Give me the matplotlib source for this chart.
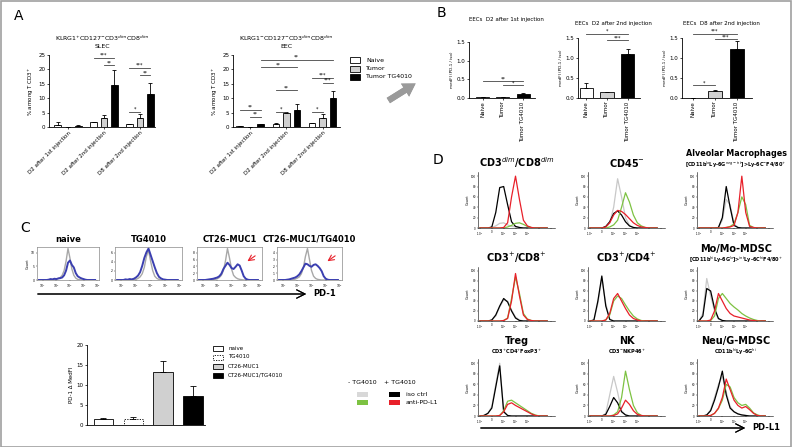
import matplotlib.pyplot as plt
import numpy as np
from matplotlib.patches import Rectangle

W, H = 792, 447

# ---------------- data ----------------
# panel A (rows = Naive, Tumor, Tumor TG4010 ; columns = time points)
a_groups = ["D2 after 1st injection", "D2 after 2nd injection", "D8 after 2nd injection"]
a_series = ["Naive", "Tumor", "Tumor TG4010"]
slec_vals = [[0.8, 1.7, 1.0], [0.1, 3.2, 3.0], [0.4, 14.5, 11.6]]
slec_err = [[1.0, 0.1, 0.15], [0.0, 0.8, 1.5], [0.2, 5.4, 3.8]]
eec_vals = [[0.3, 1.2, 1.4], [0.1, 5.0, 3.0], [1.0, 6.0, 10.2]]
eec_err = [[0.1, 0.1, 0.1], [0.0, 0.2, 1.5], [0.2, 2.0, 2.3]]

# panel B
b_titles = ["EECs  D2 after 1st injection", "EECs  D2 after 2nd injection", "EECs  D8 after 2nd injection"]
b_vals = [[0.02, 0.03, 0.12], [0.25, 0.15, 1.10], [0.0, 0.18, 1.22]]
b_err = [[0.005, 0.005, 0.02], [0.12, 0.01, 0.13], [0.0, 0.02, 0.20]]

# panel C histograms (% of axis height), gray = isotype, blue = PD-1
c_titles = ["naive", "TG4010", "CT26-MUC1", "CT26-MUC1/TG4010"]
c_gray = [
    [0, 0, 0, 0, 0, 0, 0, 1, 2, 3, 5, 8, 15, 30, 60, 100, 70, 35, 15, 6, 2, 1, 0, 0, 0, 0, 0, 0, 0, 0],
    [0, 0, 0, 0, 0, 0, 0, 0, 1, 2, 5, 10, 20, 40, 75, 95, 60, 30, 12, 5, 2, 0, 0, 0, 0, 0, 0, 0, 0, 0],
    [0, 0, 0, 0, 0, 0, 0, 1, 2, 4, 8, 15, 30, 60, 100, 70, 35, 15, 8, 4, 2, 1, 0, 0, 0, 0, 0, 0, 0, 0],
    [0, 0, 0, 0, 0, 0, 0, 1, 3, 6, 10, 20, 40, 75, 100, 65, 30, 12, 5, 2, 1, 0, 0, 0, 0, 0, 0, 0, 0, 0],
]
c_blue = [
    [0, 0, 0, 0, 0, 1, 3, 2, 4, 3, 5, 6, 8, 15, 30, 55, 62, 48, 40, 22, 12, 8, 5, 3, 1, 0, 0, 0, 0, 0],
    [0, 0, 0, 0, 2, 1, 3, 2, 4, 8, 14, 25, 45, 70, 88, 100, 80, 60, 40, 22, 10, 5, 2, 1, 0, 0, 0, 0, 0, 0],
    [0, 0, 0, 0, 1, 2, 3, 4, 6, 8, 12, 20, 35, 45, 55, 48, 38, 35, 42, 50, 46, 30, 12, 4, 1, 0, 0, 0, 0, 0],
    [0, 0, 0, 0, 1, 2, 4, 6, 8, 12, 18, 28, 40, 52, 50, 45, 42, 48, 50, 45, 38, 28, 12, 4, 1, 0, 0, 0, 0, 0],
]

# panel C bar chart
c_labels = ["naive", "TG4010", "CT26-MUC1", "CT26-MUC1/TG4010"]
c_vals = [1.5, 1.6, 13.3, 7.3]
c_errs = [0.3, 0.3, 2.6, 2.4]

# panel D histograms: [iso -TG4010 (gray), iso +TG4010 (black), anti-PD-L1 -TG4010 (green), anti-PD-L1 +TG4010 (red)]
cd3dim_cd8dim = [
    [0, 0, 0, 1, 4, 9, 10, 6, 3, 2, 1, 0, 0, 0, 0, 0, 0, 0],
    [0, 0, 0, 2, 30, 78, 80, 45, 12, 3, 1, 0, 0, 0, 0, 0, 0, 0],
    [0, 0, 0, 0, 0, 0, 0, 2, 5, 9, 10, 7, 3, 1, 0, 0, 0, 0],
    [0, 0, 0, 0, 0, 0, 1, 10, 60, 100, 55, 15, 4, 1, 0, 0, 0, 0],
]
cd45neg = [
    [0, 0, 0, 0, 2, 10, 40, 95, 60, 20, 5, 1, 0, 0, 0, 0, 0, 0],
    [0, 0, 0, 0, 3, 12, 28, 33, 25, 12, 4, 1, 0, 0, 0, 0, 0, 0],
    [0, 0, 0, 0, 0, 2, 6, 15, 40, 68, 50, 25, 10, 4, 1, 0, 0, 0],
    [0, 0, 0, 0, 2, 10, 25, 34, 32, 26, 18, 10, 5, 2, 1, 0, 0, 0],
]
alv_macro = [
    [0, 0, 0, 0, 0, 1, 15, 55, 45, 8, 1, 0, 0, 0, 0, 0, 0, 0],
    [0, 0, 0, 0, 0, 1, 20, 80, 40, 5, 1, 0, 0, 0, 0, 0, 0, 0],
    [0, 0, 0, 0, 0, 0, 0, 1, 3, 8, 30, 60, 45, 5, 1, 0, 0, 0],
    [0, 0, 0, 0, 0, 0, 0, 1, 2, 5, 30, 100, 30, 3, 1, 0, 0, 0],
]
cd3_cd8 = [
    [0, 0, 0, 2, 10, 28, 42, 40, 22, 8, 2, 0, 0, 0, 0, 0, 0, 0],
    [0, 0, 0, 2, 12, 30, 45, 38, 20, 6, 1, 0, 0, 0, 0, 0, 0, 0],
    [0, 0, 0, 0, 0, 0, 1, 6, 45, 88, 55, 15, 4, 1, 0, 0, 0, 0],
    [0, 0, 0, 0, 0, 0, 1, 5, 40, 95, 50, 12, 3, 1, 0, 0, 0, 0],
]
cd3_cd4 = [
    [0, 2, 35, 85, 35, 4, 0, 0, 0, 0, 0, 0, 0, 0, 0, 0, 0, 0],
    [0, 2, 40, 90, 30, 3, 0, 0, 0, 0, 0, 0, 0, 0, 0, 0, 0, 0],
    [0, 0, 0, 0, 2, 12, 40, 50, 45, 32, 20, 10, 4, 1, 0, 0, 0, 0],
    [0, 0, 0, 0, 2, 15, 45, 55, 40, 25, 12, 5, 2, 0, 0, 0, 0, 0],
]
mo_mdsc = [
    [0, 15, 85, 50, 20, 4, 1, 0, 0, 0, 0, 0, 0, 0, 0, 0, 0, 0],
    [0, 10, 65, 60, 25, 5, 1, 0, 0, 0, 0, 0, 0, 0, 0, 0, 0, 0],
    [0, 0, 0, 1, 10, 45, 55, 45, 35, 28, 22, 15, 10, 6, 3, 1, 0, 0],
    [0, 0, 0, 2, 20, 55, 40, 25, 15, 10, 8, 6, 4, 2, 1, 0, 0, 0],
]
treg = [
    [0, 1, 5, 18, 60, 100, 10, 1, 0, 0, 0, 0, 0, 0, 0, 0, 0, 0],
    [0, 1, 5, 15, 55, 95, 8, 1, 0, 0, 0, 0, 0, 0, 0, 0, 0, 0],
    [0, 0, 0, 0, 0, 1, 10, 28, 30, 25, 20, 15, 10, 5, 2, 0, 0, 0],
    [0, 0, 0, 0, 0, 1, 8, 22, 25, 20, 16, 12, 8, 4, 1, 0, 0, 0],
]
nk = [
    [0, 0, 0, 0, 5, 40, 75, 45, 10, 2, 0, 0, 0, 0, 0, 0, 0, 0],
    [0, 0, 0, 0, 3, 18, 35, 25, 8, 2, 0, 0, 0, 0, 0, 0, 0, 0],
    [0, 0, 0, 0, 0, 0, 2, 8, 35, 85, 50, 20, 6, 1, 0, 0, 0, 0],
    [0, 0, 0, 0, 0, 0, 1, 4, 15, 30, 22, 10, 3, 1, 0, 0, 0, 0],
]
neu_mdsc = [
    [0, 0, 2, 12, 35, 60, 75, 45, 18, 8, 4, 2, 1, 0, 0, 0, 0, 0],
    [0, 0, 2, 10, 30, 55, 85, 40, 15, 8, 4, 2, 1, 0, 0, 0, 0, 0],
    [0, 0, 0, 1, 5, 14, 30, 60, 55, 35, 25, 20, 22, 15, 6, 2, 0, 0],
    [0, 0, 0, 1, 5, 15, 35, 70, 50, 30, 20, 15, 18, 12, 5, 1, 0, 0],
]

# ---------------- helpers ----------------
fig = plt.figure(figsize=(W / 100, H / 100), dpi=100)
plt.rcParams['font.family'] = ['DejaVu Sans']


def px_axes(x0, y0, x1, y1):
    return fig.add_axes([x0 / W, 1 - y1 / H, (x1 - x0) / W, (y1 - y0) / H])


def ftext(x, y, s, **kw):
    fig.text(x / W, 1 - y / H, s, **kw)


def clean(ax, size=4):
    ax.spines['top'].set_visible(False)
    ax.spines['right'].set_visible(False)
    for s in ['left', 'bottom']:
        ax.spines[s].set_linewidth(0.6)
    ax.tick_params(labelsize=size, width=0.5, length=1.5, pad=1)


def sig(ax, x0, x1, y, s, fs=3.5):
    ax.plot([x0, x1], [y, y], color='#444444', lw=0.6, clip_on=False)
    ax.text((x0 + x1) / 2, y, s, ha='center', va='bottom', fontsize=fs, clip_on=False)


colors3 = ['white', '#d0d0d0', 'black']

# border
fig.add_artist(Rectangle((0.001, 0.001), 0.998, 0.997, transform=fig.transFigure,
                         fill=False, edgecolor='#a0a0a0', lw=1.2))

# ---------------- panel A ----------------
ftext(14, 16, "A", fontsize=10, va='center')
off = [-0.29, 0.0, 0.29]


def a_panel(ax, vals, errs):
    x = np.arange(3)
    for i in range(3):
        ax.bar(x + off[i], vals[i], width=0.18, color=colors3[i], edgecolor='black', lw=0.6,
               yerr=[np.zeros(3), errs[i]], error_kw=dict(lw=0.6, capsize=1.5, capthick=0.6))
    ax.set_ylim(0, 25)
    ax.set_yticks([0, 5, 10, 15, 20, 25])
    ax.set_xticks(x)
    ax.set_xticklabels(a_groups, rotation=45, ha='right', rotation_mode='anchor', fontsize=3.6)
    ax.set_ylabel("% among T CD3$^{+}$", fontsize=4, labelpad=2)
    clean(ax)


ax = px_axes(49, 55, 155, 127)
a_panel(ax, slec_vals, slec_err)
ax.set_xlim(-0.53, 2.42)
sig(ax, 0.71, 1.29, 24.0, "***")
sig(ax, 1.0, 1.29, 21.5, "**")
sig(ax, 1.71, 2.29, 20.5, "***")
sig(ax, 2.0, 2.29, 18.0, "**")
sig(ax, 1.71, 2.0, 5.2, "*")
ax.set_title("KLRG1$^{+}$CD127$^{-}$CD3$^{dim}$CD8$^{dim}$\nSLEC", fontsize=4.5, pad=5)

ax = px_axes(233, 55, 340, 127)
a_panel(ax, eec_vals, eec_err)
ax.set_xlim(-0.47, 2.48)
sig(ax, 0.29, 2.29, 23.3, "**")
sig(ax, 0.29, 1.29, 20.8, "**")
sig(ax, 1.71, 2.29, 17.0, "***")
sig(ax, 2.0, 2.29, 15.3, "***")
sig(ax, 0.71, 1.29, 12.8, "**")
sig(ax, -0.29, 0.29, 5.9, "**")
sig(ax, 0.0, 0.29, 3.5, "**")
sig(ax, 0.71, 1.0, 5.2, "*")
sig(ax, 1.71, 2.0, 5.2, "*")
ax.set_title("KLRG1$^{-}$CD127$^{-}$CD3$^{dim}$CD8$^{dim}$\nEEC", fontsize=4.5, pad=5)

for i, name in enumerate(a_series):
    y = 60 + i * 8.5
    fig.add_artist(Rectangle((350 / W, 1 - (y + 3) / H), 10 / W, 6 / H, transform=fig.transFigure,
                             facecolor=colors3[i], edgecolor='black', lw=0.6))
    ftext(366, y, name, fontsize=4.5, va='center')

# gray arrow between A and B
fig.add_artist(plt.annotate('', xy=(418 / W, 1 - 82 / H), xytext=(386 / W, 1 - 102 / H),
                            xycoords='figure fraction',
                            arrowprops=dict(arrowstyle='simple,head_width=1.1,head_length=0.9,tail_width=0.45',
                                            color='#9a9a9a', lw=0)))

# ---------------- panel B ----------------
ftext(437, 13, "B", fontsize=10, va='center')
b_boxes = [(469, 42, 535, 98), (578, 38, 640, 98), (682, 38, 752, 98)]
b_xlims = [(-0.7, 2.6), (-0.4, 2.6), (-0.5, 2.7)]
b_title_y = [20, 24, 24]
for k in range(3):
    ax = px_axes(*b_boxes[k])
    ax.bar(np.arange(3), b_vals[k], width=0.65, color=colors3, edgecolor='black', lw=0.6,
           yerr=[np.zeros(3), b_err[k]], error_kw=dict(lw=0.6, capsize=1.5, capthick=0.6))
    ax.set_xlim(*b_xlims[k])
    ax.set_ylim(0, 1.5)
    ax.set_yticks([0, 0.5, 1.0, 1.5])
    ax.set_yticklabels(["0.0", "0.5", "1.0", "1.5"])
    ax.set_xticks(np.arange(3))
    ax.set_xticklabels(a_series, rotation=90)
    ax.set_ylabel("medFI (PD-1 / iso)", fontsize=3, labelpad=2)
    clean(ax)
    x0, _, x1, _ = b_boxes[k]
    ftext((x0 + x1) / 2 + 4, b_title_y[k], b_titles[k], fontsize=4, ha='center', va='center')
    if k == 0:
        sig(ax, 0, 2, 0.45, "**")
        sig(ax, 1, 2, 0.34, "*")
    elif k == 1:
        sig(ax, 0, 2, 1.60, "*")
        sig(ax, 1, 2, 1.44, "***")
    else:
        sig(ax, 0, 2, 1.60, "***")
        sig(ax, 1, 2, 1.47, "***")
        sig(ax, 0, 1, 0.32, "*")

# ---------------- panel C ----------------
ftext(20, 228, "C", fontsize=10, va='center')
c_boxes = [(37, 247, 99, 280), (115, 247, 182, 280), (197, 247, 262, 280), (277, 247, 342, 280)]
c_yticks = [[0, 5, 10], [0, 2, 4, 6], [0, 2, 4, 6, 8], [0, 1, 2, 3, 4]]
for k in range(4):
    ax = px_axes(*c_boxes[k])
    xb = np.arange(len(c_gray[k]))
    ax.plot(xb, c_gray[k], color='#a8a8a8', lw=1.0)
    ax.plot(xb, c_blue[k], color='#3b3fb0', lw=1.4)
    ax.set_xlim(-1, 31)
    ax.set_ylim(0, 105)
    top = c_yticks[k][-1] * 1.15
    ax.set_yticks([v / top * 100 for v in c_yticks[k]])
    ax.set_yticklabels([str(v) for v in c_yticks[k]])
    ax.set_xticks([2, 9, 16, 23, 30])
    ax.set_xticklabels(["10$^1$", "10$^2$", "10$^3$", "10$^4$", "10$^5$"])
    ax.tick_params(labelsize=2.2, width=0.3, length=1, pad=0.5)
    for s in ax.spines.values():
        s.set_linewidth(0.5)
        s.set_color('#888888')
    if k == 0:
        ax.set_ylabel("Count", fontsize=2.5, labelpad=1)
    x0, y0, x1, _ = c_boxes[k]
    ftext((x0 + x1) / 2, y0 - 8, c_titles[k], fontsize=6, fontweight='bold', ha='center', va='center')
    if k >= 2:
        ax.annotate('', xy=(0.74, 0.52), xytext=(0.93, 0.78), xycoords='axes fraction',
                    arrowprops=dict(arrowstyle='->', color='#e8202a', lw=0.8))

fig.add_artist(plt.annotate('', xy=(309 / W, 1 - 294 / H), xytext=(35 / W, 1 - 294 / H),
                            xycoords='figure fraction',
                            arrowprops=dict(arrowstyle='->,head_length=0.6,head_width=0.3', lw=0.8,
                                            color='black')))
ftext(313, 294, "PD-1", fontsize=6, fontweight='bold', va='center')

ax = px_axes(87, 345, 205, 425)
c_fc = ['white', 'white', '#d0d0d0', 'black']
c_ls = ['-', (0, (1.5, 1.5)), '-', '-']
for i in range(4):
    ax.bar(i, c_vals[i], width=0.65, color=c_fc[i], edgecolor='black', lw=0.6, linestyle=c_ls[i],
           yerr=[[0], [c_errs[i]]], error_kw=dict(lw=0.6, capsize=2, capthick=0.6))
ax.set_xlim(-0.55, 3.4)
ax.set_ylim(0, 20)
ax.set_yticks([0, 5, 10, 15, 20])
ax.set_xticks([])
ax.set_ylabel("PD-1 \u0394 MedFI", fontsize=4, labelpad=2)
clean(ax, 4)

for i, name in enumerate(c_labels):
    y = 348 + i * 9
    fig.add_artist(Rectangle((213 / W, 1 - (y + 2.5) / H), 10 / W, 5 / H, transform=fig.transFigure,
                             facecolor=c_fc[i], edgecolor='black', lw=0.6, linestyle=c_ls[i]))
    ftext(228, y, name, fontsize=4, va='center')

# ---------------- panel D ----------------
ftext(433, 160, "D", fontsize=10, va='center')
d_cols = [(478, 555), (588, 665), (697, 773)]
d_rows = [(172, 228), (267, 321), (359, 416)]
d_data = [[cd3dim_cd8dim, cd45neg, alv_macro], [cd3_cd8, cd3_cd4, mo_mdsc], [treg, nk, neu_mdsc]]
d_titles = [["CD3$^{dim}$/CD8$^{dim}$", "CD45$^{-}$", "Alveolar Macrophages"],
            ["CD3$^{+}$/CD8$^{+}$", "CD3$^{+}$/CD4$^{+}$", "Mo/Mo-MDSC"],
            ["Treg", "NK", "Neu/G-MDSC"]]
d_subs = [["", "", "[CD11b$^{lo}$Ly-6G$^{neg-int}$]>Ly-6C$^{-}$F4/80$^{+}$"],
          ["", "", "[CD11b$^{hi}$Ly-6G$^{lo}$]>$^{int}$Ly-6C$^{hi}$F4/80$^{+}$"],
          ["CD3$^{+}$CD4$^{+}$FoxP3$^{+}$", "CD3$^{-}$NKP46$^{+}$", "CD11b$^{hi}$Ly-6G$^{hi}$"]]
d_colors = ['#c8c8c8', 'black', '#7dc242', '#e8202a']
for r in range(3):
    for c in range(3):
        x0, x1 = d_cols[c]
        y0, y1 = d_rows[r]
        ax = px_axes(x0, y0, x1, y1)
        curves = d_data[r][c]
        xb = np.arange(len(curves[0]))
        for j in range(4):
            ax.plot(xb, curves[j], color=d_colors[j], lw=0.9)
        ax.set_xlim(-0.5, 19)
        ax.set_ylim(0, 108)
        ax.set_yticks([0, 20, 40, 60, 80, 100])
        ax.set_xticks([0, 3, 6, 9, 12, 15, 18])
        ax.set_xticklabels(["-10$^3$", "0", "10$^3$", "10$^4$", "10$^5$", "", ""])
        ax.tick_params(labelsize=2, width=0.3, length=1, pad=0.5)
        for s in ['top', 'right']:
            ax.spines[s].set_visible(False)
        for s in ['left', 'bottom']:
            ax.spines[s].set_linewidth(0.4)
        ax.set_ylabel("Count", fontsize=2.5, labelpad=1)
        cx = (x0 + x1) / 2
        if d_subs[r][c]:
            fs = 5.8 if c == 2 and r == 0 else 7
            shift = 1 if c == 2 else 0
            ftext(cx + shift, y0 - 18, d_titles[r][c], fontsize=fs, fontweight='bold',
                  ha='center', va='center')
            ftext(cx + shift, y0 - 7, d_subs[r][c], fontsize=3.6, fontweight='bold',
                  ha='center', va='center')
        else:
            ftext(cx, y0 - 9, d_titles[r][c], fontsize=7, fontweight='bold', ha='center', va='center')

fig.add_artist(plt.annotate('', xy=(748 / W, 1 - 428 / H), xytext=(478 / W, 1 - 428 / H),
                            xycoords='figure fraction',
                            arrowprops=dict(arrowstyle='->,head_length=0.6,head_width=0.3', lw=0.8,
                                            color='black')))
ftext(752, 428, "PD-L1", fontsize=6, fontweight='bold', va='center')

# legend of panel D
ftext(362, 383, "- TG4010", fontsize=4.5, ha='center', va='center')
ftext(400, 383, "+ TG4010", fontsize=4.5, ha='center', va='center')
for i, (ca, cb, lab) in enumerate([('#d8d8d8', 'black', 'iso ctrl'), ('#7dc242', '#e8202a', 'anti-PD-L1')]):
    y = 394 + i * 8
    fig.add_artist(Rectangle((357 / W, 1 - (y + 2.5) / H), 11 / W, 5 / H, transform=fig.transFigure,
                             facecolor=ca, lw=0))
    fig.add_artist(Rectangle((389 / W, 1 - (y + 2.5) / H), 11 / W, 5 / H, transform=fig.transFigure,
                             facecolor=cb, lw=0))
    ftext(406, y, lab, fontsize=4.5, va='center')

fig.savefig("out.png", dpi=100)
